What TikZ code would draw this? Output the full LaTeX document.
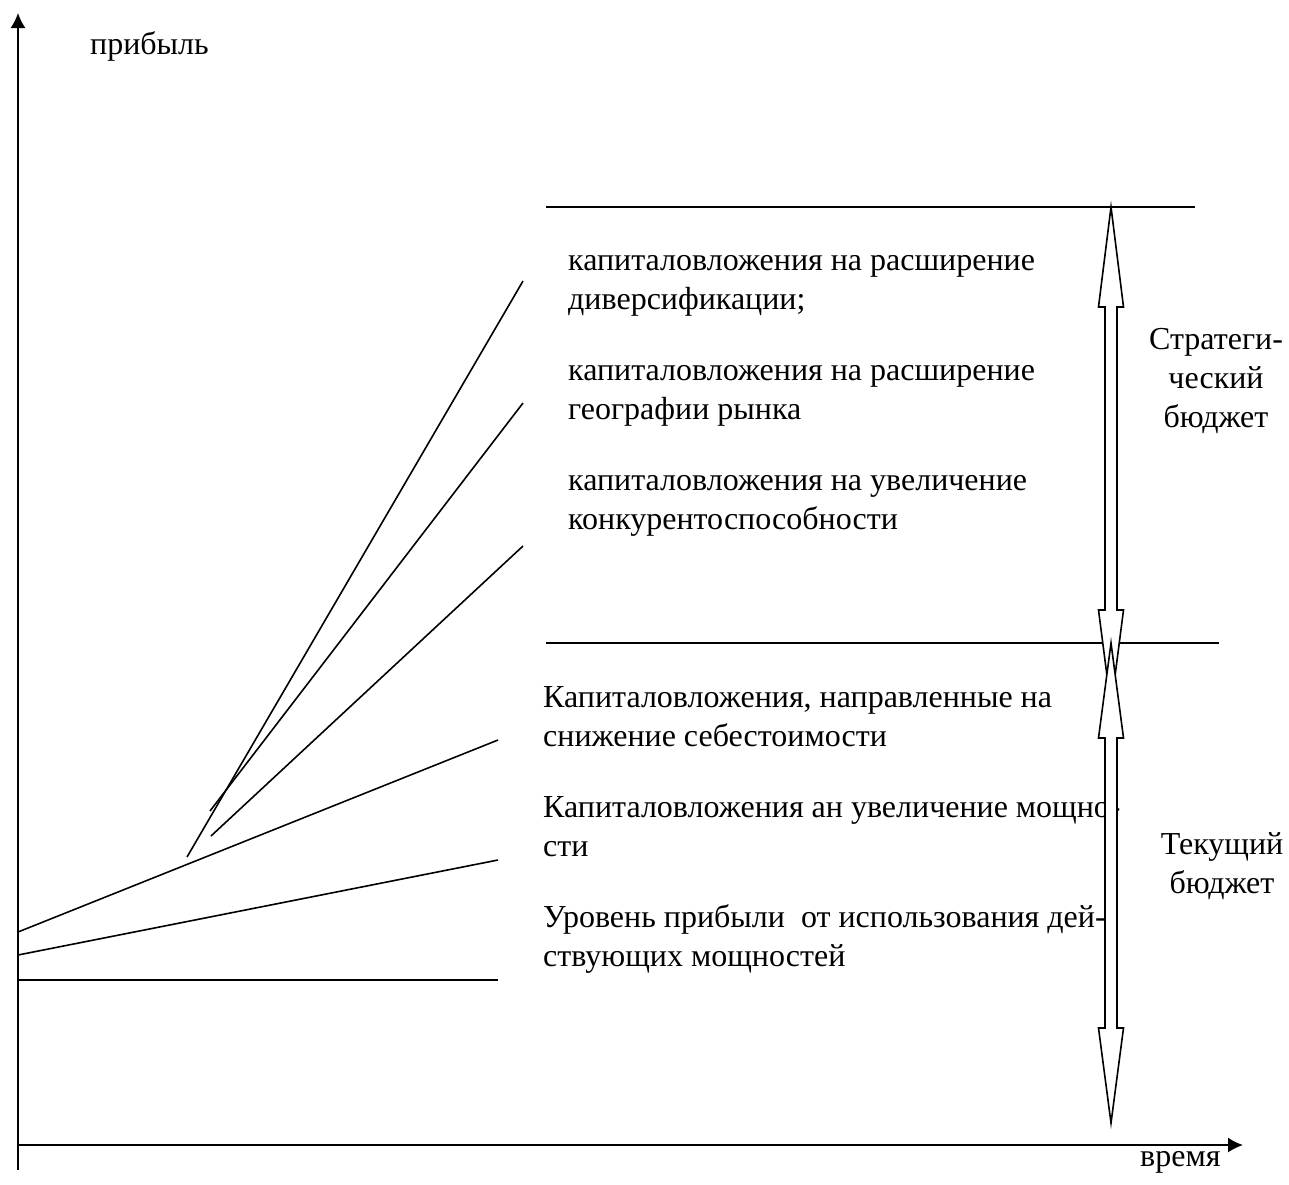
\documentclass[tikz,border=0pt]{standalone}
\usepackage{fontspec}
\setmainfont{Liberation Serif}
\usetikzlibrary{arrows.meta}
\begin{document}
\begin{tikzpicture}[x=1pt,y=-1pt,
  ln/.style={line width=1.6pt},
  axis/.style={line width=1.6pt,-{Latex[length=15pt,width=15pt]}},
  lbl/.style={anchor=base west,inner sep=0pt,align=left,font=\fontsize{32}{39}\selectfont},
  lblc/.style={anchor=base,inner sep=0pt,align=center,font=\fontsize{32}{39}\selectfont},
  barrow/.style={line width=1.6pt,fill=white,line join=miter}]
\useasboundingbox (0,0) rectangle (1289,1184);
% axes
\coordinate (o) at (18,1145);
\coordinate (ybot) at (18,1170);
\coordinate (ytop) at (18,13);
\coordinate (xend) at (1243,1145);
\draw[axis] (ybot) -- (ytop);
\draw[axis] (o) -- (xend);
\node[lbl] (yl) at (90,54) {прибыль};
\node[lbl] (xl) at (1140,1166) {время};
% profit lines
\coordinate (b0) at (18,980);  \coordinate (e0) at (498,980);
\coordinate (b1) at (18,955);  \coordinate (e1) at (498,860);
\coordinate (b2) at (18,932);  \coordinate (e2) at (498,740);
\coordinate (b3) at (187,857); \coordinate (e3) at (523,281);
\coordinate (b4) at (210,811); \coordinate (e4) at (523,403);
\coordinate (b5) at (211,836); \coordinate (e5) at (523,546);
\foreach \i in {0,...,5} {\draw[ln] (b\i) -- (e\i);}
% budget separators
\coordinate (t1) at (546,207); \coordinate (t2) at (1195,207);
\coordinate (m1) at (546,643); \coordinate (m2) at (1219,643);
\draw[ln] (t1) -- (t2);
\draw[ln] (m1) -- (m2);
% labels (base = last line)
\node[lbl] (s1) at (568,309) {капиталовложения на расширение\\диверсификации;};
\node[lbl] (s2) at (568,419) {капиталовложения на расширение\\географии рынка};
\node[lbl] (s3) at (568,529) {капиталовложения на увеличение\\конкурентоспособности};
\node[lbl] (c1) at (543,746) {Капиталовложения, направленные на\\снижение себестоимости};
\node[lbl] (c2) at (543,856) {Капиталовложения ан увеличение мощно-\\сти};
\node[lbl] (c3) at (543,966) {Уровень прибыли\ \ от использования дей-\\ствующих мощностей};
\node[lblc] (sb) at (1216,427) {Стратеги-\\ческий\\бюджет};
\node[lblc] (cb) at (1222,893) {Текущий\\бюджет};
% double arrows
\draw[barrow] (1111,207) -- (1123.5,307) -- (1117,307) -- (1117,610) -- (1123.5,610) -- (1111,707)
  -- (1098.5,610) -- (1105,610) -- (1105,307) -- (1098.5,307) -- cycle;
\draw[barrow] (1111,643) -- (1123.5,738) -- (1117,738) -- (1117,1028) -- (1123.5,1028) -- (1111,1123)
  -- (1098.5,1028) -- (1105,1028) -- (1105,738) -- (1098.5,738) -- cycle;
\end{tikzpicture}
\end{document}
